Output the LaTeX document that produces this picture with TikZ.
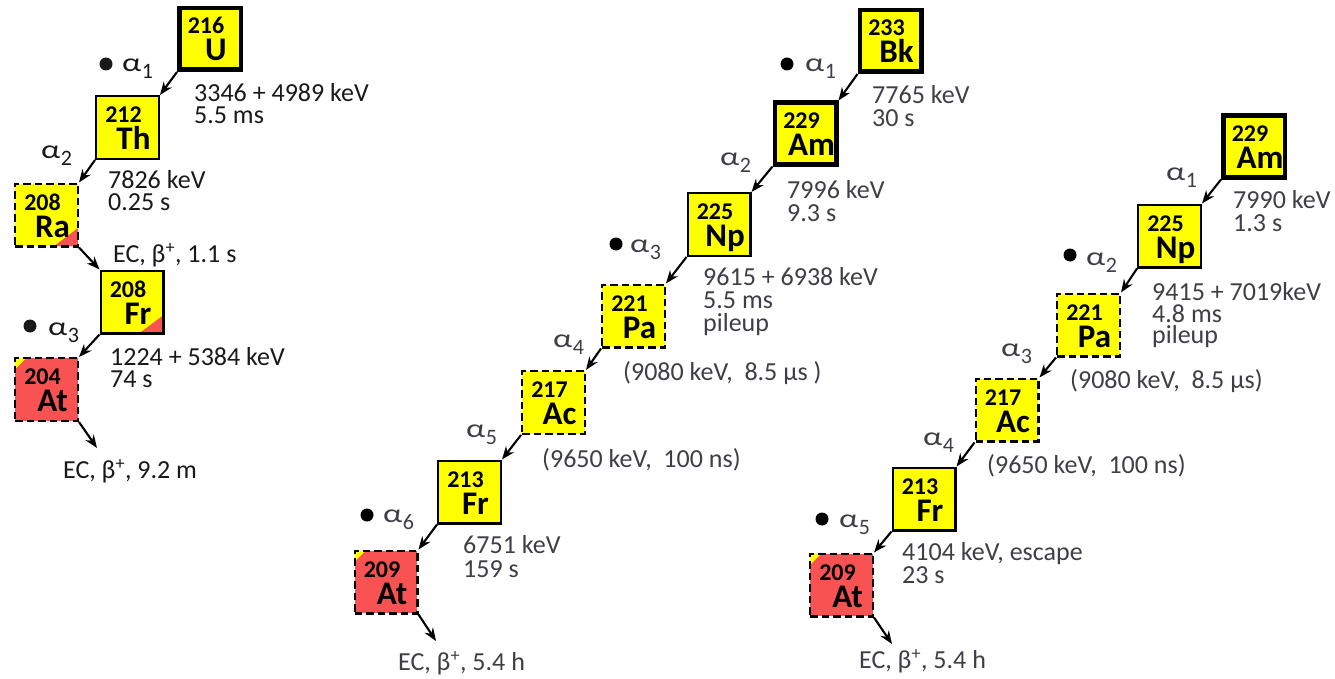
\documentclass[tikz,border=0pt]{standalone}
\usepackage{fontspec}
\setmainfont{Carlito}
\usepackage{graphicx}
\usetikzlibrary{arrows.meta,calc}
\definecolor{yel}{RGB}{255,255,0}
\definecolor{rd}{RGB}{248,82,82}
\definecolor{txa}{RGB}{25,25,25}
\definecolor{txb}{RGB}{62,62,72}
\newcommand\alp[1]{\scalebox{1.3}[1]{α}\kern0.5bp\raisebox{-7bp}{\fontsize{22bp}{22bp}\selectfont #1}}
\newcommand\bpl{β\textsuperscript{+}}
\newcommand\nuc[6]{%
  \node[#4] (#1) at (#2,#3) {};
  \node[mass] (#1m) at ($(#1.center)+(-4,-5)$) {#5};
  \node[elem] (#1e) at ($(#1.center)+(6,22)$) {#6};
}
\tikzset{
  box/.style={draw=black, fill=yel, inner sep=0pt},
  thickbox/.style={box, line width=4.5bp, minimum size=61.5bp},
  solidbox/.style={box, line width=2.4bp, minimum size=62.6bp},
  dashbox/.style={box, line width=2.4bp, minimum size=62.6bp, dash pattern=on 7.5bp off 4bp},
  redbox/.style={dashbox, fill=rd},
  redcorner/.style={path picture={\fill[rd] (path picture bounding box.south east) -- ++(-24,0) -- ++(24,-18) -- cycle;}},
  yelcorner/.style={path picture={\fill[yel] (path picture bounding box.north west) -- ++(11,0) -- ++(-11,11) -- cycle;}},
  mass/.style={font=\bfseries\fontsize{24bp}{24bp}\selectfont, inner sep=0pt, anchor=base},
  elem/.style={font=\bfseries\fontsize{33bp}{33bp}\selectfont, inner sep=0pt, anchor=base},
  lab/.style={font=\fontsize{26bp}{26bp}\selectfont, inner sep=0pt, anchor=base west},
  dotn/.style={circle, fill, inner sep=0pt, minimum size=13bp},
  arr/.style={line width=2.1bp, -{Stealth[length=13bp,width=10bp]}},
}
\begin{document}
\begin{tikzpicture}[x=1bp,y=-1bp]
\useasboundingbox (0,0) rectangle (1335,678);
% ---------- left chain ----------
\nuc{lU}{210}{39}{thickbox}{216}{U}
\nuc{lTh}{127.5}{127.5}{solidbox}{212}{Th}
\nuc{lRa}{46.5}{215}{dashbox,redcorner}{208}{Ra}
\nuc{lFr}{132}{302}{solidbox,redcorner}{208}{Fr}
\nuc{lAt}{46.5}{389.5}{redbox,yelcorner}{204}{At}
\coordinate (lEnd) at (97,448);
\draw[arr] (lU.south west) -- (lTh.north east);
\draw[arr] (lTh.south west) -- (lRa.north east);
\draw[arr] (lRa.south east) -- (lFr.north west);
\draw[arr] (lFr.south west) -- (lAt.north east);
\draw[arr] (lAt.south east) -- (lEnd);
\begin{scope}[txa]
\node[dotn] (ld1) at (106,64) {};
\node[lab] (la1) at (122,72) {\alp{1}};
\node[lab] (la2) at (41,158) {\alp{2}};
\node[dotn] (ld3) at (30,326) {};
\node[lab] (la3) at (48,335) {\alp{3}};
\node[lab] (lt1) at (194,102) {3346 + 4989 keV};
\node[lab] (lt2) at (194,124) {5.5 ms};
\node[lab] (lt3) at (108,188) {7826 keV};
\node[lab] (lt4) at (108,210) {0.25 s};
\node[lab] (lt5) at (113,262) {EC, \bpl, 1.1 s};
\node[lab] (lt6) at (110,365) {1224 + 5384 keV};
\node[lab] (lt7) at (110,387) {74 s};
\node[lab] (lt8) at (63,478) {EC, \bpl, 9.2 m};
\end{scope}
% ---------- middle chain ----------
\nuc{mBk}{890.5}{41}{thickbox}{233}{Bk}
\nuc{mAm}{805.5}{133.5}{thickbox}{229}{Am}
\nuc{mNp}{719}{224.5}{solidbox}{225}{Np}
\nuc{mPa}{633.5}{316}{dashbox}{221}{Pa}
\nuc{mAc}{553.5}{402.5}{dashbox}{217}{Ac}
\nuc{mFr}{469.5}{492}{solidbox}{213}{Fr}
\nuc{mAt}{386}{582}{redbox,yelcorner}{209}{At}
\coordinate (mEnd) at (436,641);
\draw[arr] (mBk.south west) -- (mAm.north east);
\draw[arr] (mAm.south west) -- (mNp.north east);
\draw[arr] (mNp.south west) -- (mPa.north east);
\draw[arr] (mPa.south west) -- (mAc.north east);
\draw[arr] (mAc.south west) -- (mFr.north east);
\draw[arr] (mFr.south west) -- (mAt.north east);
\draw[arr] (mAt.south east) -- (mEnd);
\begin{scope}[txb]
\node[dotn,black] (md1) at (787,64) {};
\node[lab] (ma1) at (805,72) {\alp{1}};
\node[lab] (ma2) at (720,165) {\alp{2}};
\node[dotn,black] (md3) at (616,244) {};
\node[lab] (ma3) at (630,252) {\alp{3}};
\node[lab] (ma4) at (553,347) {\alp{4}};
\node[lab] (ma5) at (466,437) {\alp{5}};
\node[dotn,black] (md6) at (367,515) {};
\node[lab] (ma6) at (383,522) {\alp{6}};
\node[lab] (mt1) at (872,104) {7765 keV};
\node[lab] (mt2) at (872,127) {30 s};
\node[lab] (mt3) at (787,198) {7996 keV};
\node[lab] (mt4) at (787,221) {9.3 s};
\node[lab] (mt5) at (703,285) {9615 + 6938 keV};
\node[lab] (mt6) at (703,308) {5.5 ms};
\node[lab] (mt7) at (703,331) {pileup};
\node[lab] (mt8) at (623,380) {(9080 keV,\ \ 8.5 μs )};
\node[lab] (mt9) at (542,467) {(9650 keV,\ \ 100 ns)};
\node[lab] (mt10) at (463,553) {6751 keV};
\node[lab] (mt11) at (463,577) {159 s};
\node[lab] (mt12) at (398,670) {EC, \bpl, 5.4 h};
\end{scope}
% ---------- right chain ----------
\nuc{rAm}{1254}{146.5}{thickbox}{229}{Am}
\nuc{rNp}{1169.5}{236}{solidbox}{225}{Np}
\nuc{rPa}{1088.5}{325}{dashbox}{221}{Pa}
\nuc{rAc}{1007}{410}{dashbox}{217}{Ac}
\nuc{rFr}{924}{499}{solidbox}{213}{Fr}
\nuc{rAt}{841.5}{585}{redbox,yelcorner}{209}{At}
\coordinate (rEnd) at (892,644);
\draw[arr] (rAm.south west) -- (rNp.north east);
\draw[arr] (rNp.south west) -- (rPa.north east);
\draw[arr] (rPa.south west) -- (rAc.north east);
\draw[arr] (rAc.south west) -- (rFr.north east);
\draw[arr] (rFr.south west) -- (rAt.north east);
\draw[arr] (rAt.south east) -- (rEnd);
\begin{scope}[txb]
\node[lab] (ra1) at (1166,180) {\alp{1}};
\node[dotn,black] (rd2) at (1070,255) {};
\node[lab] (ra2) at (1086,265) {\alp{2}};
\node[lab] (ra3) at (1001,356) {\alp{3}};
\node[lab] (ra4) at (923,445) {\alp{4}};
\node[dotn,black] (rd5) at (822,519) {};
\node[lab] (ra5) at (839,527) {\alp{5}};
\node[lab] (rt1) at (1233,208) {7990 keV};
\node[lab] (rt2) at (1233,231) {1.3 s};
\node[lab] (rt3) at (1152,300) {9415 + 7019keV};
\node[lab] (rt4) at (1152,322) {4.8 ms};
\node[lab] (rt5) at (1152,343) {pileup};
\node[lab] (rt6) at (1070,388) {(9080 keV,\ \ 8.5 μs)};
\node[lab] (rt7) at (987,473) {(9650 keV,\ \ 100 ns)};
\node[lab] (rt8) at (902,560) {4104 keV, escape};
\node[lab] (rt9) at (902,583) {23 s};
\node[lab] (rt10) at (859,668) {EC, \bpl, 5.4 h};
\end{scope}
\end{tikzpicture}
\end{document}
